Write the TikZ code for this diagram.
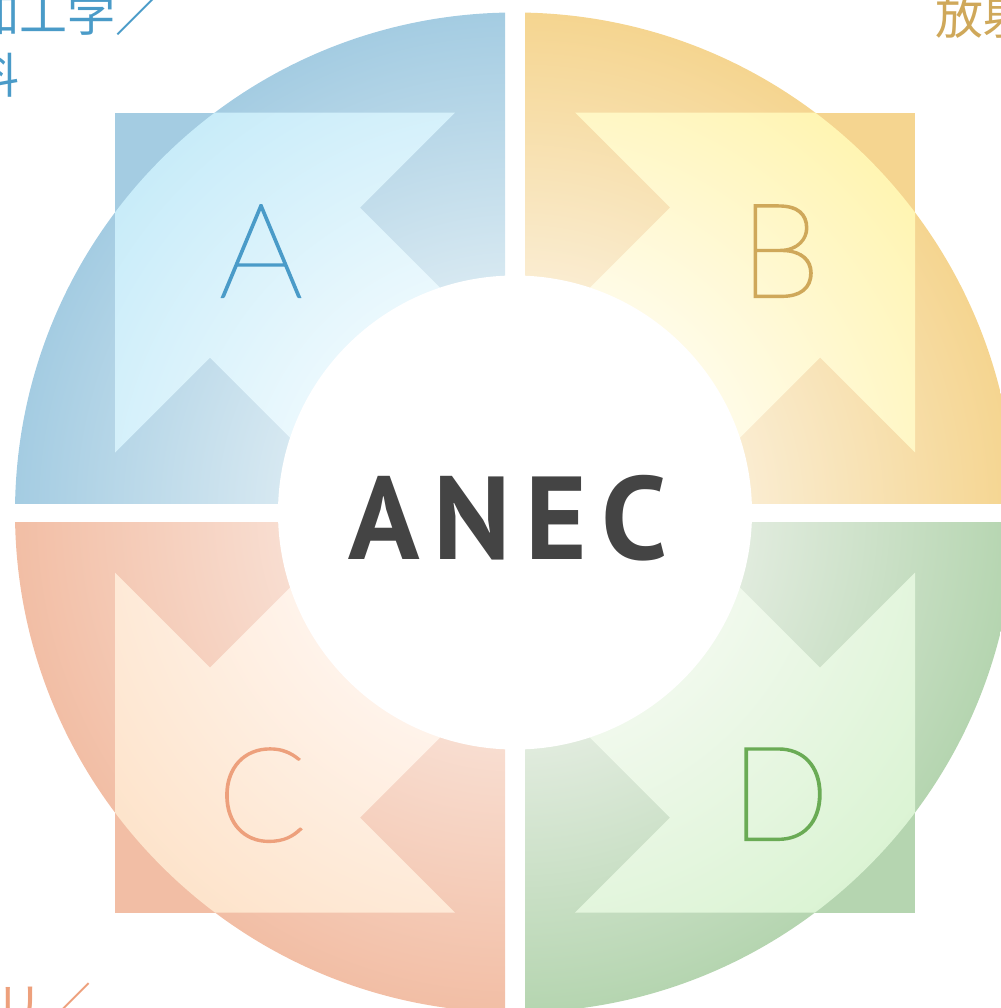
\documentclass[tikz,border=0pt]{standalone}
\usepackage{fontspec}
\setmainfont{Liberation Sans}
\newfontfamily\logofont[LetterSpace=12]{PT Sans}
\newfontfamily\cjkfont{Noto Sans CJK JP}
\IfFontExistsTF{Lato Thin}{\newfontfamily\thinfont[FakeBold=1.6]{Lato Thin}}{%
  \IfFontExistsTF{Lato Hairline}{\newfontfamily\thinfont[FakeBold=1.6]{Lato Hairline}}{%
    \IfFontExistsTF{Lato Light}{\newfontfamily\thinfont{Lato Light}}{%
      \newfontfamily\thinfont{Lato}}}}

% ring, square and chevron colours of the four quarters
\definecolor{Aout}{HTML}{A4CCE2}\definecolor{Ain}{HTML}{D6E8F1}
\definecolor{Acho}{HTML}{C0E9F8}\definecolor{Achi}{HTML}{EAF8FD}
\definecolor{Atxt}{HTML}{4A9BC8}
\definecolor{Bout}{HTML}{F5D590}\definecolor{Bin}{HTML}{FAECD0}
\definecolor{Bcho}{HTML}{FFF3A6}\definecolor{Bchi}{HTML}{FFFBE6}
\definecolor{Btxt}{HTML}{CFA85A}
\definecolor{Cout}{HTML}{F2BEA5}\definecolor{Cin}{HTML}{F8DDD0}
\definecolor{Ccho}{HTML}{FDE0C4}\definecolor{Cchi}{HTML}{FFF3EA}
\definecolor{Ctxt}{HTML}{EDA07C}
\definecolor{Dout}{HTML}{B5D5B0}\definecolor{Din}{HTML}{E0EBDD}
\definecolor{Dcho}{HTML}{D6F2CE}\definecolor{Dchi}{HTML}{F0F9EC}
\definecolor{Dtxt}{HTML}{6AAB55}
\definecolor{logogray}{HTML}{444444}

% radial shadings: ring drawn on a circle of radius 500, chevron on radius 600
\foreach \q in {A,B,C,D}{%
  \pgfdeclareradialshading{ring\q}{\pgfpointorigin}{%
    color(0bp)=(\q in); color(11.85bp)=(\q in); color(25bp)=(\q out); color(50bp)=(\q out)}%
  \pgfdeclareradialshading{chev\q}{\pgfpointorigin}{%
    color(0bp)=(\q chi); color(9.9bp)=(\q chi); color(23.5bp)=(\q cho); color(50bp)=(\q cho)}%
}

% one quarter: square, ring segment, chevron inside the ring;
% #2/#3 mirror the top-left layout
\newcommand{\quarter}[3]{%
  \begin{scope}[shift={(515,512.5)}, xscale=#2, yscale=#3]
    \fill[#1out] (-400,-400) rectangle (-60,-60);
    \begin{scope}
      \clip (-10,-9.5) rectangle (-530,-530);
      \clip (0,0) circle (500);
      \shade[shading=ring#1] (0,0) circle (500);
      \clip (-400,-400) -- (-60,-400) -- (-155,-305) -- (-60,-210) -- (-60,-60)
            -- (-210,-60) -- (-305,-155) -- (-400,-60) -- cycle;
      \shade[shading=chev#1] (0,0) circle (600);
    \end{scope}
  \end{scope}}

\begin{document}
\begin{tikzpicture}[x=1bp, y=-1bp,
  letterbox/.style={anchor=base, inner sep=0pt,
    font=\thinfont\fontsize{131bp}{131bp}\selectfont},
  logo/.style={anchor=base, inner sep=0pt, text=logogray,
    font=\logofont\bfseries\fontsize{118bp}{118bp}\selectfont},
  cornertext/.style={anchor=base west, inner sep=0pt, align=left,
    font=\cjkfont\fontsize{48bp}{62bp}\selectfont}]
  \useasboundingbox (0,0) rectangle (1001,1008);

  \quarter{A}{1}{1}
  \quarter{B}{-1}{1}
  \quarter{C}{1}{-1}
  \quarter{D}{-1}{-1}

  % white hub
  \fill[white] (515,512.5) circle (237);

  \node[logo] (anec) at (508,559) {ANEC};

  \node[letterbox, text=Atxt] (la) at (261,297) {A};
  \node[letterbox, text=Btxt] (lb) at (780,297) {B};
  \node[letterbox, text=Ctxt] (lc) at (262,841) {C};
  \node[letterbox, text=Dtxt] (ld) at (780,840) {D};

  % field names at the corners
  \node[cornertext, text=Atxt] (fa) at (-29,93) {加工学／\\料};
  \node[cornertext, text=Btxt] (fb) at (935,34) {放射};
  \node[cornertext, text=Ctxt] (fc) at (-5,1023) {リ／};
\end{tikzpicture}
\end{document}
